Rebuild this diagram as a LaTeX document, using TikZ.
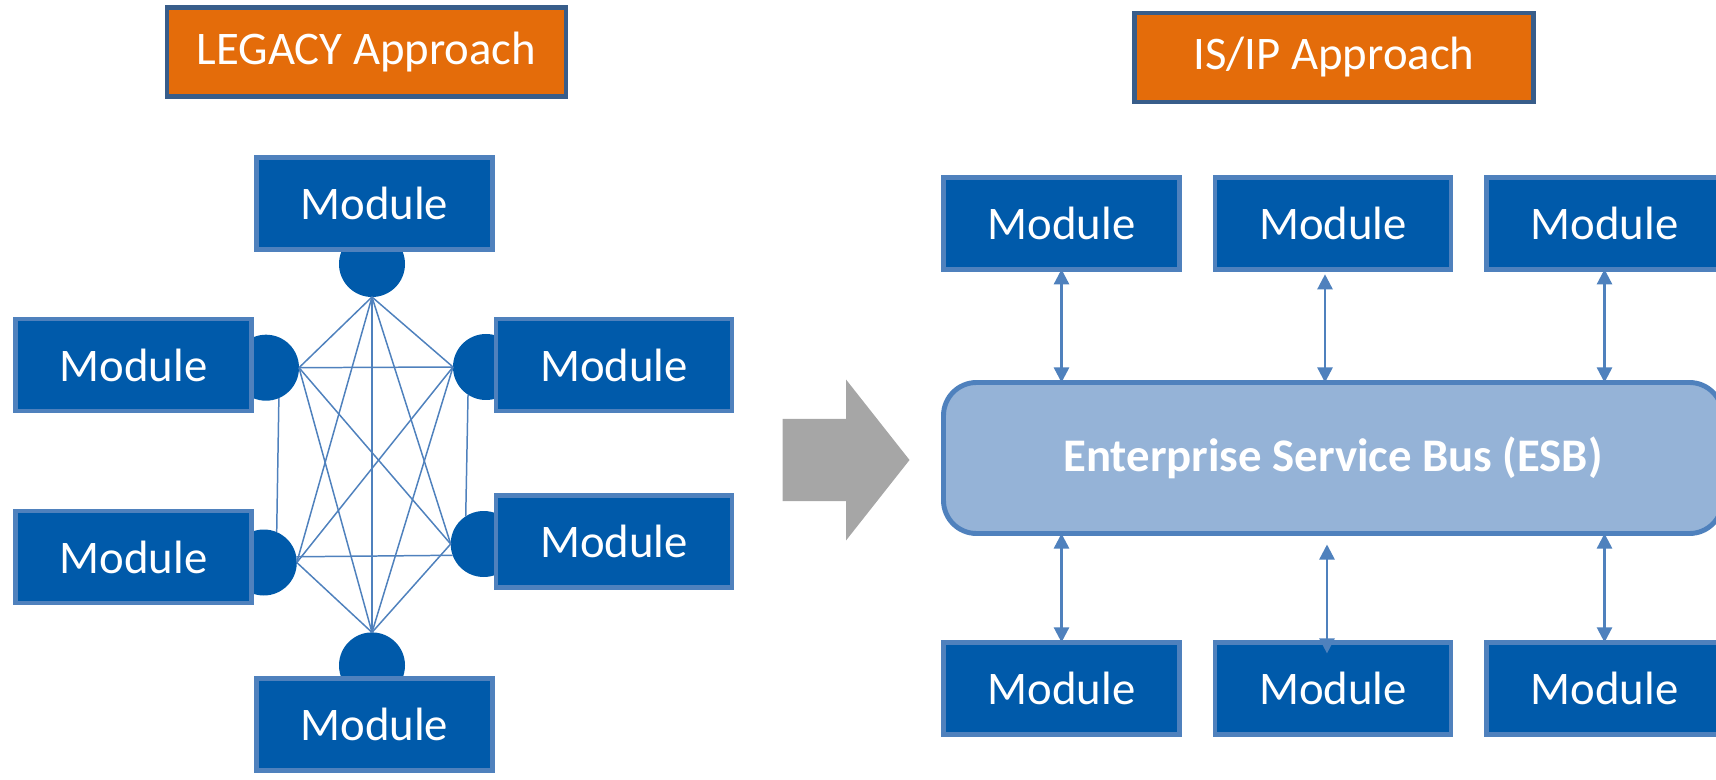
\documentclass[tikz,border=0pt]{standalone}
\usepackage{fontspec}
\setmainfont{Carlito}
\usetikzlibrary{arrows.meta}
\definecolor{modfill}{RGB}{0,90,170}
\definecolor{modline}{RGB}{79,129,189}
\definecolor{titlefill}{RGB}{228,108,10}
\definecolor{titleline}{RGB}{56,93,138}
\definecolor{busfill}{RGB}{149,179,215}
\definecolor{arrowgray}{RGB}{166,166,166}

\begin{document}
\begin{tikzpicture}[every node/.style={font=\fontsize{26.6}{32}\selectfont, text=white, inner sep=0pt, outer sep=0pt},
  module/.style={fill=modfill, draw=modline, line width=2.8pt, minimum width=4.72cm, minimum height=1.84cm},
  port/.style={circle, fill=modfill, minimum size=1.32cm},
  approach/.style={fill=titlefill, draw=titleline, line width=2.3pt, minimum width=7.98cm, minimum height=1.78cm},
  mesh/.style={draw=modline, line width=0.85pt},
  busarrow/.style={draw=modline, line width=1.4pt, {Triangle[width=3mm,length=3mm]}-{Triangle[width=3mm,length=3mm]}}]
\useasboundingbox (0,0) rectangle (34.32,15.58);

\node[approach] (legacy) at (7.33,14.54) {LEGACY Approach};
\node[approach] (isip) at (26.68,14.43) {IS/IP Approach};

\node[port] (portT) at (7.44,10.30) {};
\node[port] (portL1) at (5.32,8.226) {};
\node[port] (portR1) at (9.72,8.24) {};
\node[port] (portL2) at (5.276,4.33) {};
\node[port] (portR2) at (9.674,4.70) {};
\node[port] (portB) at (7.44,2.272) {};

\node[module] (modT) at (7.486,11.508) {Module};
\node[module] (modL1) at (2.67,8.28) {Module};
\node[module] (modR1) at (12.28,8.28) {Module};
\node[module] (modL2) at (2.67,4.44) {Module};
\node[module] (modR2) at (12.28,4.744) {Module};
\node[module] (modB) at (7.486,1.092) {Module};

\draw[mesh] (portT.south) -- (portL1.east);
\draw[mesh] (portT.south) -- (portR1.west);
\draw[mesh] (portT.south) -- (portL2.east);
\draw[mesh] (portT.south) -- (portR2.west);
\draw[mesh] (portT.south) -- (portB.north);
\draw[mesh] (portL1.east) -- (portR1.west);
\draw[mesh] (portL1.-67) -- (portL2.67);
\draw[mesh] (portL1.east) -- (portR2.west);
\draw[mesh] (portL1.east) -- (portB.north);
\draw[mesh] (portR1.west) -- (portL2.east);
\draw[mesh] (portR1.-123) -- (portR2.123);
\draw[mesh] (portR1.west) -- (portB.north);
\draw[mesh] (portL2.10) -- (portR2.200);
\draw[mesh] (portL2.east) -- (portB.north);
\draw[mesh] (portR2.west) -- (portB.north);

\fill[arrowgray] (15.65,5.56) -- (16.92,5.56) -- (16.92,4.77) -- (18.19,6.38) -- (16.92,7.99) -- (16.92,7.2) -- (15.65,7.2) -- cycle;

\node[fill=busfill, draw=modline, line width=2.8pt, rounded corners=0.66cm, minimum width=15.58cm, minimum height=3.02cm] (bus) at (26.66,6.42) {\bfseries Enterprise Service Bus (ESB)};

\node[module] (top1) at (21.23,11.114) {Module};
\node[module] (top2) at (26.66,11.114) {Module};
\node[module] (top3) at (32.09,11.114) {Module};
\node[module] (bot1) at (21.23,1.812) {Module};
\node[module] (bot2) at (26.66,1.812) {Module};
\node[module] (bot3) at (32.09,1.812) {Module};

\draw[busarrow] (top1.south) -- (top1.south |- bus.north);
\draw[busarrow] ([xshift=-0.16cm,yshift=-0.1cm]top2.south) -- ([xshift=-0.16cm]top2.south |- bus.north);
\draw[busarrow] (top3.south) -- (top3.south |- bus.north);
\draw[busarrow] (bot1.north |- bus.south) -- (bot1.north);
\draw[busarrow] ([xshift=-0.12cm,yshift=-0.22cm]bot2.north |- bus.south) -- ([xshift=-0.12cm,yshift=-0.22cm]bot2.north);
\draw[busarrow] (bot3.north |- bus.south) -- (bot3.north);
\end{tikzpicture}
\end{document}
